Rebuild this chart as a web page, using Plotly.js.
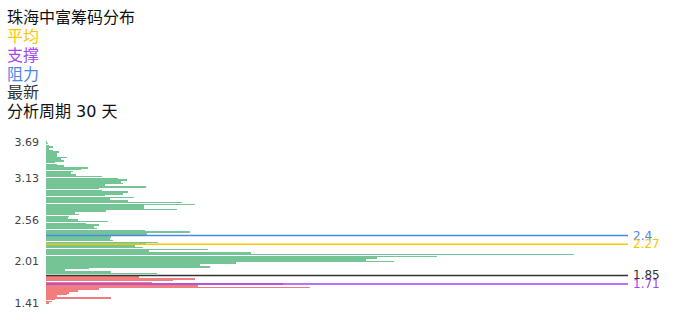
<!DOCTYPE html>
<html>
<head>
<meta charset="utf-8">
<script src="https://cdn.plot.ly/plotly-3.0.1.min.js"></script>
<style>html,body{margin:0;padding:0;background:#fff;}#chart{width:696px;height:320px;}</style>
</head>
<body>
<div id="chart"></div>
<script>
// Price bins (top to bottom)
const prices = [
"3.69","3.66","3.64","3.61","3.58","3.56","3.53","3.50","3.48","3.45",
"3.42","3.40","3.37","3.34","3.32","3.29","3.26","3.24","3.21","3.18",
"3.16","3.13","3.11","3.08","3.06","3.04","3.01","2.99","2.96","2.94",
"2.92","2.89","2.87","2.85","2.82","2.80","2.77","2.75","2.73","2.70",
"2.68","2.66","2.63","2.61","2.58","2.56","2.54","2.52","2.51","2.49",
"2.47","2.45","2.44","2.42","2.40","2.37","2.35","2.32","2.30","2.27",
"2.24","2.22","2.19","2.17","2.14","2.11","2.09","2.06","2.04","2.01",
"1.99","1.97","1.95","1.93","1.91","1.89","1.87","1.85","1.82","1.79",
"1.77","1.74","1.71","1.68","1.66","1.63","1.60","1.57","1.55","1.52",
"1.49","1.46","1.44","1.41"
];
// Chip volume per bin (relative)
const chips = [
1,2,3,7,3,7,13,11,11,21,
15,18,9,11,18,42,35,27,25,30,
56,72,81,75,77,59,100,53,56,82,
77,59,88,64,82,136,149,98,98,131,
60,29,33,23,22,32,62,40,53,48,
51,99,144,101,95,65,64,67,112,100,
89,97,162,103,205,528,391,331,320,348,
190,154,164,43,19,65,111,156,93,149,
127,106,237,152,264,53,32,23,21,11,
65,9,6,3
];
const tickLabels = ["3.69","3.13","2.56","2.01","1.41"];
const titleText = "珠海中富筹码分布";
const periodDays = 30;
const avgPrice = 2.27;
const supportPrice = 1.71;
const resistPrice = 2.4;
const latestPrice = 1.85;

const GREEN = "rgba(30,160,85,0.62)";
const RED = "rgba(232,45,45,0.62)";
const colors = prices.map(p => parseFloat(p) <= latestPrice ? RED : GREEN);

// position of a price on the category scale (bin index)
const binOf = v => prices.indexOf((Math.round(v*100)/100).toFixed(2));

const levels = [
  {v: resistPrice, label: String(resistPrice), color: "#4a86f0"},
  {v: avgPrice, label: String(avgPrice), color: "#f7c600"},
  {v: latestPrice, label: String(latestPrice), color: "#333333"},
  {v: supportPrice, label: String(supportPrice), color: "#a445f2"}
];

const shapes = levels.map(l => ({
  type: "line", xref: "paper", x0: 0, x1: 1, yref: "y", y0: binOf(l.v), y1: binOf(l.v),
  line: {color: l.color, width: 1.5}
}));

const lineAnn = levels.map(l => ({
  xref: "paper", x: 1, xanchor: "left", xshift: 3, yref: "y", y: binOf(l.v), yanchor: "middle",
  text: l.label, showarrow: false, font: {size: 12, color: l.color, family: "DejaVu Sans, sans-serif"}
}));

const headerLines = [
  {t: titleText, c: "#111111"},
  {t: "平均", c: "#f7c600"},
  {t: "支撑", c: "#a445f2"},
  {t: "阻力", c: "#4a86f0"},
  {t: "最新", c: "#333333"},
  {t: "分析周期 " + periodDays + " 天", c: "#111111"}
];
const headerY = [18, 36.5, 55.5, 74.5, 93, 112];
const plotTop = 141, plotBottom = 304, plotLeft = 46, plotW = 582;
const headerAnn = headerLines.map((h, i) => ({
  xref: "paper", x: (5 - plotLeft) / plotW, xanchor: "left",
  yref: "paper", y: (plotBottom - headerY[i]) / (plotBottom - plotTop), yanchor: "middle",
  text: h.t, showarrow: false,
  font: {size: 16, color: h.c, family: "DejaVu Sans, Noto Sans CJK SC, sans-serif"}
}));

const trace = {
  type: "bar", orientation: "h",
  x: chips, y: prices,
  marker: {color: colors, line: {width: 0}},
  width: 0.9,
  hoverinfo: "none"
};

const layout = {
  width: 696, height: 320,
  margin: {l: plotLeft, r: 696 - plotLeft - plotW, t: plotTop, b: 320 - plotBottom, pad: 0},
  paper_bgcolor: "#ffffff", plot_bgcolor: "#ffffff",
  showlegend: false,
  bargap: 0,
  xaxis: {range: [0, plotW], visible: false, fixedrange: true},
  yaxis: {
    type: "category", categoryorder: "array", categoryarray: prices,
    range: [prices.length - 0.5, -0.5], autorange: false,
    tickmode: "array", tickvals: tickLabels, ticktext: tickLabels,
    showgrid: false, zeroline: false, showline: false, ticks: "",
    ticklabelstandoff: 6,
    tickfont: {size: 11, color: "#444444", family: "DejaVu Sans, sans-serif"}
  },
  shapes: shapes,
  annotations: headerAnn.concat(lineAnn)
};

Plotly.newPlot("chart", [trace], layout, {staticPlot: true, displayModeBar: false});
</script>
</body>
</html>
